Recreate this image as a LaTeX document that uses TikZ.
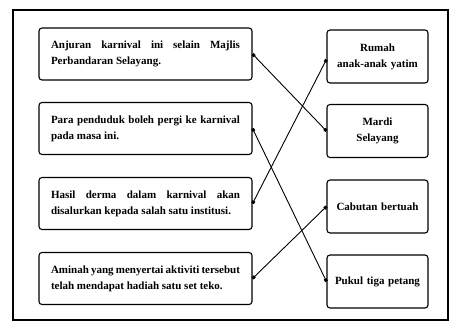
\documentclass[tikz,border=0pt]{standalone}
\usepackage{fontspec}
\setmainfont{Liberation Serif}
\usetikzlibrary{arrows.meta}
\begin{document}
\begin{tikzpicture}[x=1pt,y=-1pt,
  txt/.style={font=\fontsize{11}{16}\selectfont\bfseries},
  lbox/.style={draw,line width=1.1pt,rounded corners=3pt,minimum width=213pt,minimum height=52pt,
    text width=189pt,align=justify,inner sep=0pt,txt},
  rbox/.style={draw,line width=1.1pt,rounded corners=3pt,minimum width=101pt,minimum height=53pt,
    text width=95pt,align=center,inner sep=0pt,txt},
  link/.style={line width=0.9pt,{Square[length=3pt,width=3pt]}-{Square[length=3pt,width=3pt]}}]
\useasboundingbox (0,0) rectangle (454,327);
\draw[line width=1.3pt] (13,10) rectangle (448,320);
\node[lbox] (l1) at (145.5,54) {Anjuran karnival ini selain Majlis\linebreak Perbandaran Selayang.};
\node[lbox] (l2) at (145.5,128.5) {Para penduduk boleh pergi ke karnival\linebreak pada masa ini.};
\node[lbox] (l3) at (145.5,203.5) {Hasil derma dalam karnival akan\linebreak disalurkan kepada salah satu institusi.};
\node[lbox] (l4) at (145.5,278.5) {Aminah yang menyertai aktiviti tersebut\linebreak telah mendapat hadiah satu set teko.};
\node[rbox] (r1) at (377.5,56.5) {Rumah\\anak-anak yatim};
\node[rbox] (r2) at (377.5,131) {Mardi\\Selayang};
\node[rbox] (r3) at (377.5,206.5) {Cabutan bertuah};
\node[rbox] (r4) at (377.5,281.5) {Pukul tiga petang};
\draw[link] (l1.east) -- (r2.west);
\draw[link] (l2.east) -- (r4.west);
\draw[link] (l3.east) -- ([yshift=-3pt]r1.west);
\draw[link] (l4.east) -- (r3.west);
\end{tikzpicture}
\end{document}
